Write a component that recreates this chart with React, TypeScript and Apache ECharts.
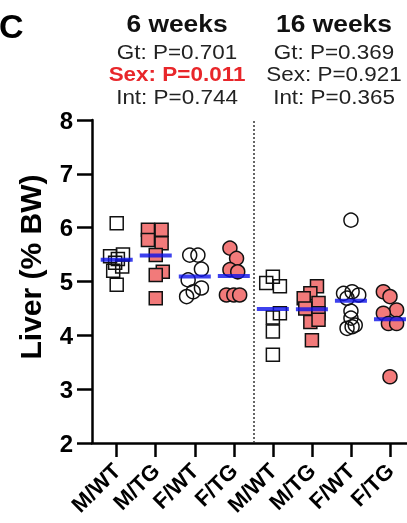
import React, { useEffect, useRef } from "react";
import * as echarts from "echarts";

const categories = ["M/WT", "M/TG", "F/WT", "F/TG", "M/WT", "M/TG", "F/WT", "F/TG"];
const yTicks = [2, 3, 4, 5, 6, 7, 8];

// values (% BW) per group, with horizontal jitter offsets (in category units)
const mwt6 = [6.08, 5.47, 5.5, 5.42, 5.35, 5.28, 5.2, 4.94];
const mwt6Jit = [0, -0.17, 0.16, 0.03, -0.04, 0.14, -0.09, 0];
const mtg6 = [5.96, 5.96, 5.77, 5.71, 5.49, 5.18, 5.12, 4.69];
const mtg6Jit = [-0.2, 0.15, -0.2, 0.15, 0, 0.18, 0, 0];
const fwt6 = [5.49, 5.49, 5.23, 5.03, 4.88, 4.81, 4.72];
const fwt6Jit = [-0.13, 0.08, 0.17, -0.17, 0.17, -0.04, -0.21];
const ftg6 = [5.62, 5.43, 5.22, 5.18, 4.75, 4.75, 4.75];
const ftg6Jit = [-0.1, 0.07, -0.1, 0.1, -0.19, 0, 0.15];
const mwt16 = [5.09, 4.97, 4.91, 4.41, 4.33, 4.07, 3.64];
const mwt16Jit = [0, -0.17, 0.18, 0.18, 0, 0, 0];
const mtg16 = [4.91, 4.78, 4.69, 4.6, 4.5, 4.41, 4.25, 4.29, 3.91];
const mtg16Jit = [0.13, -0.04, -0.21, 0.17, -0.17, 0.17, -0.04, 0.17, 0];
const fwt16 = [6.14, 4.81, 4.78, 4.75, 4.69, 4.45, 4.32, 4.19, 4.16, 4.13];
const fwt16Jit = [0, 0.03, -0.19, 0.2, -0.1, 0, 0, 0.11, 0.03, -0.1];
const ftg16 = [4.81, 4.72, 4.47, 4.41, 4.22, 4.22, 3.23];
const ftg16Jit = [-0.17, 0, 0.17, -0.17, -0.04, 0.17, 0];

const headers = ["6 weeks", "16 weeks"];
const gtP = ["Gt: P=0.701", "Gt: P=0.369"];
const sexP = ["Sex: P=0.011", "Sex: P=0.921"];
const intP = ["Int: P=0.744", "Int: P=0.365"];

const RED = "#f27a7a";
const BLUE = "#0c12e8";
const FONT = "'Liberation Sans', Arial, Helvetica, sans-serif";

const groups = [
  { v: mwt6, j: mwt6Jit, shape: "rect", fill: "transparent" },
  { v: mtg6, j: mtg6Jit, shape: "rect", fill: RED },
  { v: fwt6, j: fwt6Jit, shape: "circle", fill: "transparent" },
  { v: ftg6, j: ftg6Jit, shape: "circle", fill: RED },
  { v: mwt16, j: mwt16Jit, shape: "rect", fill: "transparent" },
  { v: mtg16, j: mtg16Jit, shape: "rect", fill: RED },
  { v: fwt16, j: fwt16Jit, shape: "circle", fill: "transparent" },
  { v: ftg16, j: ftg16Jit, shape: "circle", fill: RED },
];

export default function App() {
  const ref = useRef<HTMLDivElement>(null);
  useEffect(() => {
    if (!ref.current) return;
    const chart = echarts.init(ref.current, null, { renderer: "svg" });

    const scatterSeries: any[] = groups.map((g, gi) => ({
      type: "scatter",
      symbol: g.shape,
      symbolSize: g.shape === "rect" ? 13 : 14,
      itemStyle: { color: g.fill, borderColor: "#111", borderWidth: 1.5, opacity: 1 },
      data: g.v.map((val, i) => [gi + 1 + g.j[i], val]),
      z: 2,
      ...(gi === 0
        ? {
            markLine: {
              silent: true,
              symbol: "none",
              label: { show: false },
              lineStyle: { type: [2, 2], color: "#333", width: 1.5 },
              data: [{ xAxis: 4.5 }],
            },
          }
        : {}),
    }));

    const means = groups.map((g, gi) => [gi + 1, g.v.reduce((a, b) => a + b, 0) / g.v.length]);

    const headerGraphics: any[] = [];
    const centers = [177, 334];
    [0, 1].forEach((k) => {
      headerGraphics.push({
        type: "text",
        x: centers[k],
        y: 23,
        scaleX: 1.1,
        style: { text: headers[k], font: `bold 24px ${FONT}`, fill: "#111", align: "center", verticalAlign: "middle" },
      });
      headerGraphics.push({
        type: "text",
        x: centers[k],
        y: 52,
        scaleX: 1.07,
        style: { text: gtP[k], font: `21px ${FONT}`, fill: "#222", align: "center", verticalAlign: "middle" },
      });
      headerGraphics.push({
        type: "text",
        x: centers[k],
        y: 74,
        scaleX: 1.07,
        style: {
          text: sexP[k],
          font: k === 0 ? `bold 21px ${FONT}` : `21px ${FONT}`,
          fill: k === 0 ? "#e8262a" : "#222",
          align: "center",
          verticalAlign: "middle",
        },
      });
      headerGraphics.push({
        type: "text",
        x: centers[k],
        y: 97,
        scaleX: 1.07,
        style: { text: intP[k], font: `21px ${FONT}`, fill: "#222", align: "center", verticalAlign: "middle" },
      });
    });

    chart.setOption({
      animation: false,
      grid: { left: 92, right: 0, top: 120, bottom: 80, outerBoundsMode: "none", containLabel: false },
      xAxis: {
        type: "value",
        min: 0.367,
        max: 8.436,
        splitLine: { show: false },
        axisLine: { show: true, lineStyle: { color: "#000", width: 2.5 } },
        axisTick: { show: true, length: 14, lineStyle: { color: "#000", width: 2.5 }, customValues: [1, 2, 3, 4, 5, 6, 7, 8] },
        axisLabel: {
          customValues: [1, 2, 3, 4, 5, 6, 7, 8],
          rotate: 45,
          margin: 24,
          formatter: (v: number) => categories[Math.round(v) - 1] ?? "",
          fontFamily: FONT,
          fontWeight: "bold",
          fontSize: 22,
          color: "#000",
        },
      },
      yAxis: {
        type: "value",
        min: 2,
        max: 8,
        interval: 1,
        splitLine: { show: false },
        axisLine: { show: true, lineStyle: { color: "#000", width: 2.5 } },
        axisTick: { show: true, length: 15, lineStyle: { color: "#000", width: 2.5 } },
        axisLabel: {
          margin: 19,
          fontFamily: FONT,
          fontWeight: "bold",
          fontSize: 24,
          color: "#000",
          formatter: (v: number) => (yTicks.includes(v) ? String(v) : ""),
        },
      },
      graphic: [
        {
          type: "text",
          x: -1,
          y: 26,
          style: { text: "C", font: `bold 34px ${FONT}`, fill: "#000", align: "left", verticalAlign: "middle" },
        },
        {
          type: "text",
          x: 30,
          y: 267,
          rotation: Math.PI / 2,
          style: { text: "Liver (% BW)", font: `bold 30px ${FONT}`, fill: "#000", align: "center", verticalAlign: "middle" },
        },
        ...headerGraphics,
      ],
      series: [
        ...scatterSeries,
        {
          type: "scatter",
          symbol: "rect",
          symbolSize: [32, 4],
          itemStyle: { color: BLUE },
          data: means,
          z: 5,
        },
      ],
    });
    return () => chart.dispose();
  }, []);
  return <div ref={ref} style={{ position: "fixed", left: 0, top: 0, width: 407, height: 523 }} />;
}
